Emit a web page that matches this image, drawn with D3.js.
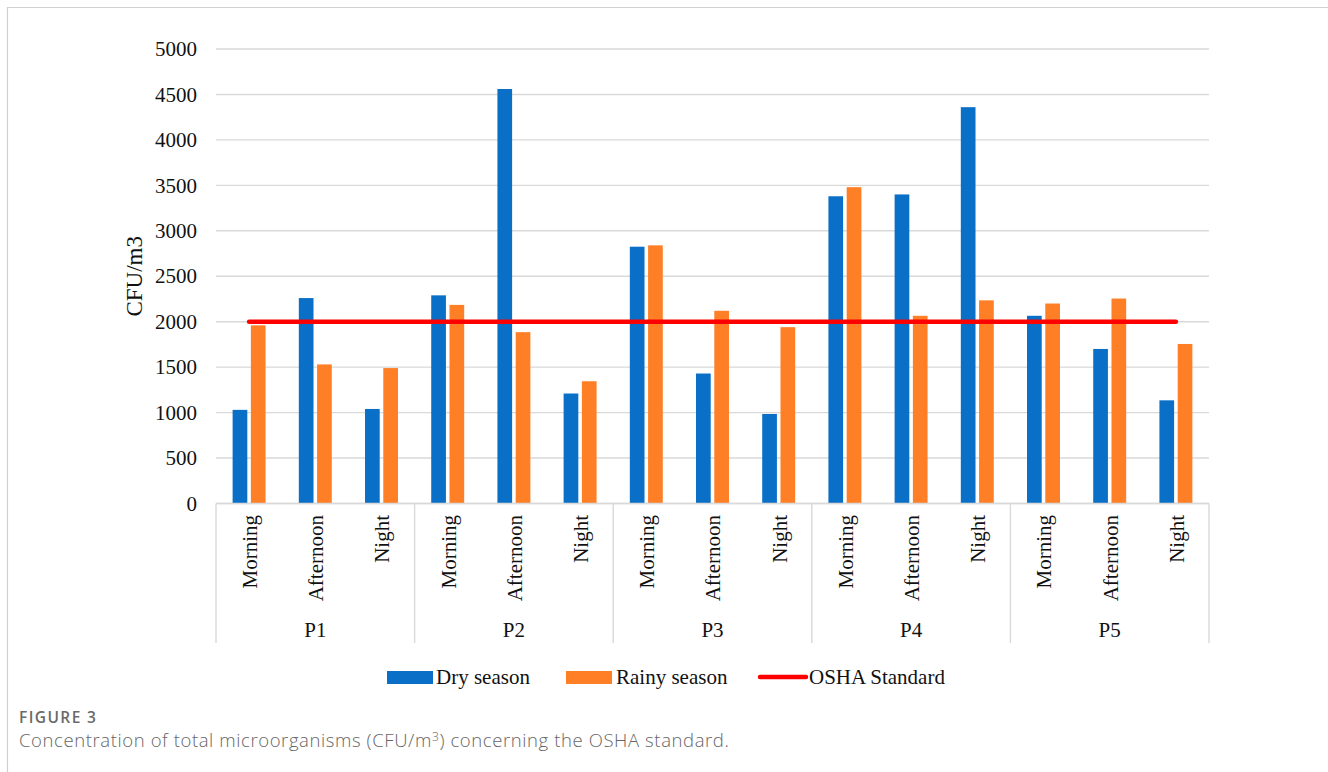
<!DOCTYPE html>
<html>
<head>
<meta charset="utf-8">
<script src="https://cdn.jsdelivr.net/npm/d3@7"></script>
<style>
  html, body { margin: 0; padding: 0; background: #fff; }
  svg { display: block; }
</style>
</head>
<body>
<svg id="chart" width="1328" height="772"></svg>
<script>
// Sampling sites, times of day, and measured concentrations (CFU/m3)
const sites = ["P1", "P2", "P3", "P4", "P5"];
const times = ["Morning", "Afternoon", "Night"];
const drySeason = [1030, 2260, 1040, 2290, 4560, 1210, 2825, 1430, 985, 3380, 3400, 4360, 2065, 1700, 1135];
const rainySeason = [1960, 1530, 1490, 2185, 1885, 1345, 2840, 2120, 1940, 3480, 2065, 2235, 2200, 2255, 1755];
const oshaStandard = 2000;
const yTicks = [0, 500, 1000, 1500, 2000, 2500, 3000, 3500, 4000, 4500, 5000];
const legendLabels = ["Dry season", "Rainy season", "OSHA Standard"];

const COLORS = { dry: "#0a6fc6", rainy: "#ff7f27", osha: "#ff0000", grid: "#d9d9d9" };
const SERIF = "'Liberation Serif', 'Times New Roman', serif";

const categories = [];
sites.forEach(s => times.forEach(t => categories.push({ site: s, time: t, key: s + "-" + t })));
const rows = categories.map((c, i) => ({ ...c, dry: drySeason[i], rainy: rainySeason[i] }));

const svg = d3.select("#chart");

// Figure frame (top and left rules)
svg.append("line").attr("x1", 7).attr("x2", 1328).attr("y1", 7.5).attr("y2", 7.5)
  .attr("stroke", "#d0d0d0").attr("stroke-width", 1.2);
svg.append("line").attr("x1", 7.5).attr("x2", 7.5).attr("y1", 7).attr("y2", 772)
  .attr("stroke", "#d0d0d0").attr("stroke-width", 1.2);

const plot = { left: 216, right: 1209, top: 49, bottom: 503.5 };

const x = d3.scaleBand().domain(categories.map(c => c.key)).range([plot.left, plot.right]).padding(0);
const y = d3.scaleLinear().domain([0, 5000]).range([plot.bottom, plot.top]);

const bw = x.bandwidth();
const barW = bw * 0.222;
const barGap = bw * 0.054;
const center = k => x(k) + bw / 2;

// Horizontal gridlines
svg.append("g").selectAll("line").data(yTicks).join("line")
  .attr("x1", plot.left).attr("x2", plot.right)
  .attr("y1", d => y(d)).attr("y2", d => y(d))
  .attr("stroke", COLORS.grid).attr("stroke-width", 1.4);

// Y axis labels
const yAxis = d3.axisLeft(y).tickValues(yTicks).tickSize(0).tickPadding(0).tickFormat(d3.format("d"));
const yg = svg.append("g").attr("transform", `translate(${plot.left - 19},0)`).call(yAxis);
yg.select(".domain").remove();
yg.selectAll("text").attr("font-family", SERIF).attr("font-size", 21).attr("fill", "#111");

// Y axis title
svg.append("text")
  .attr("transform", `translate(142,${(plot.top + plot.bottom) / 2}) rotate(-90)`)
  .attr("text-anchor", "middle")
  .attr("font-family", SERIF).attr("font-size", 23).attr("fill", "#111")
  .text("CFU/m3");

// Bars
const barsG = svg.append("g");
barsG.selectAll("rect.dry").data(rows).join("rect").attr("class", "dry")
  .attr("x", d => center(d.key) - barGap / 2 - barW)
  .attr("width", barW)
  .attr("y", d => y(d.dry))
  .attr("height", d => y(0) - y(d.dry))
  .attr("fill", COLORS.dry);
barsG.selectAll("rect.rainy").data(rows).join("rect").attr("class", "rainy")
  .attr("x", d => center(d.key) + barGap / 2)
  .attr("width", barW)
  .attr("y", d => y(d.rainy))
  .attr("height", d => y(0) - y(d.rainy))
  .attr("fill", COLORS.rainy);

// Category axis baseline and group dividers
const axisBottom = 643;
svg.append("line").attr("x1", plot.left).attr("x2", plot.right)
  .attr("y1", plot.bottom).attr("y2", plot.bottom)
  .attr("stroke", COLORS.grid).attr("stroke-width", 1.4);
const dividers = sites.map(s => x(s + "-" + times[0])).concat([plot.right]);
svg.append("g").selectAll("line").data(dividers).join("line")
  .attr("x1", d => d).attr("x2", d => d)
  .attr("y1", plot.bottom).attr("y2", axisBottom)
  .attr("stroke", COLORS.grid).attr("stroke-width", 1.4);

// Time-of-day labels (rotated)
svg.append("g").selectAll("text").data(categories).join("text")
  .attr("transform", d => `translate(${center(d.key) + 1},515) rotate(-90)`)
  .attr("text-anchor", "end")
  .attr("dy", "0.33em")
  .attr("font-family", SERIF).attr("font-size", 21).attr("fill", "#111")
  .text(d => d.time);

// Site labels
svg.append("g").selectAll("text").data(sites).join("text")
  .attr("x", s => (x(s + "-" + times[0]) + x(s + "-" + times[2]) + bw) / 2)
  .attr("y", 637)
  .attr("text-anchor", "middle")
  .attr("font-family", SERIF).attr("font-size", 21).attr("fill", "#111")
  .text(s => s);

// OSHA reference line
const first = categories[0].key, last = categories[categories.length - 1].key;
svg.append("line")
  .attr("x1", center(first)).attr("x2", center(last))
  .attr("y1", y(oshaStandard)).attr("y2", y(oshaStandard))
  .attr("stroke", COLORS.osha).attr("stroke-width", 4.5).attr("stroke-linecap", "round");

// Legend
const lg = svg.append("g").attr("font-family", SERIF).attr("font-size", 21).attr("fill", "#111");
lg.append("rect").attr("x", 387).attr("y", 671).attr("width", 46).attr("height", 13).attr("fill", COLORS.dry);
lg.append("text").attr("x", 436).attr("y", 684).text(legendLabels[0]);
lg.append("rect").attr("x", 566).attr("y", 671).attr("width", 46).attr("height", 13).attr("fill", COLORS.rainy);
lg.append("text").attr("x", 616).attr("y", 684).text(legendLabels[1]);
lg.append("line").attr("x1", 760).attr("x2", 806).attr("y1", 677).attr("y2", 677)
  .attr("stroke", COLORS.osha).attr("stroke-width", 4.5).attr("stroke-linecap", "round");
lg.append("text").attr("x", 809).attr("y", 684).text(legendLabels[2]);

// Caption
svg.append("text").attr("x", 19).attr("y", 723)
  .attr("font-family", "'Open Sans', sans-serif").attr("font-size", 15.5).attr("font-weight", 600)
  .attr("letter-spacing", 1.4)
  .attr("fill", "#6a6a6a").text("FIGURE 3");
const cap = svg.append("text").attr("x", 19).attr("y", 747)
  .attr("font-family", "'Open Sans', sans-serif").attr("font-size", 18.5).attr("font-weight", 300)
  .attr("letter-spacing", 0.6)
  .attr("fill", "#666");
cap.append("tspan").text("Concentration of total microorganisms (CFU/m");
cap.append("tspan").attr("font-size", 12).attr("baseline-shift", "6").text("3");
cap.append("tspan").text(") concerning the OSHA standard.");
</script>
</body>
</html>
